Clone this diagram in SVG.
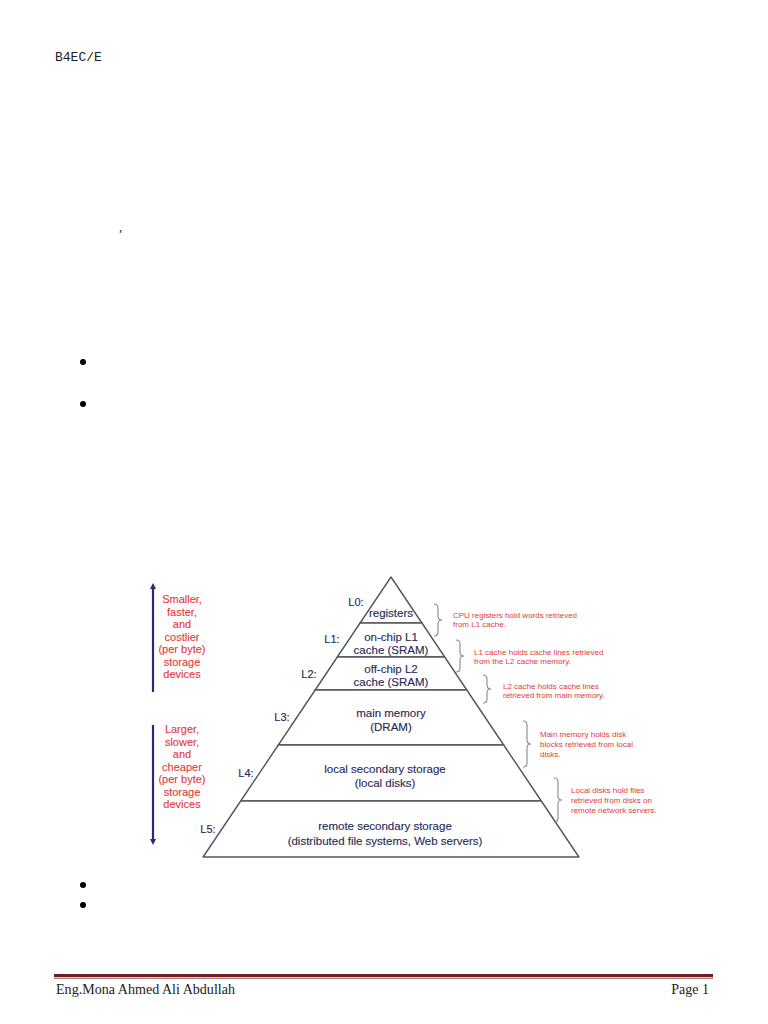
<svg xmlns="http://www.w3.org/2000/svg" width="768" height="1024" viewBox="0 0 768 1024">
<defs>
<style>
.lvl{fill:#ffffff;stroke:#55555f;stroke-width:1.4;stroke-linejoin:round}
.pt{font-family:"Liberation Sans",Arial,sans-serif;font-size:11.5px;fill:#2b2b58;text-anchor:middle;stroke:#2b2b58;stroke-width:0.15}
.lb{font-family:"Liberation Sans",Arial,sans-serif;font-size:11px;fill:#2b2b58;text-anchor:middle;stroke:#2b2b58;stroke-width:0.15}
.rt{font-family:"Liberation Sans",Arial,sans-serif;font-size:11px;fill:#e23a3a;text-anchor:middle;stroke:#e23a3a;stroke-width:0.12}
.an{font-family:"Liberation Sans",Arial,sans-serif;font-size:8px;fill:#e23a3a}
.br{fill:none;stroke:#8a8a8a;stroke-width:1.1}
.ar{stroke:#2a2a78;stroke-width:2.2;fill:none}
.bul{fill:#000000}
</style>
<marker id="ah" markerWidth="6" markerHeight="6" refX="3" refY="3" orient="auto" markerUnits="userSpaceOnUse">
<path d="M0,0 L6,3 L0,6 Z" fill="#2a2a78"/>
</marker>
</defs>
<rect width="768" height="1024" fill="#ffffff"/>

<text x="55" y="61" font-family="'Liberation Mono','DejaVu Sans Mono',monospace" font-size="13" fill="#222">B4EC/E</text>
<text x="119" y="231" font-family="'Liberation Serif',serif" font-size="13" fill="#222">,</text>

<circle class="bul" cx="83" cy="362" r="3"/>
<circle class="bul" cx="83" cy="404" r="3"/>
<circle class="bul" cx="83" cy="885" r="3"/>
<circle class="bul" cx="83" cy="905" r="3"/>

<g id="level-L0">
<polygon class="lvl" points="391,577 421.9,623 360.1,623"/>
<text class="lb" x="356" y="606">L0:</text>
<text class="pt" x="391" y="617">registers</text>
</g>
<g id="level-L1">
<polygon class="lvl" points="360.1,623 421.9,623 444.7,657 337.3,657"/>
<text class="lb" x="332" y="643">L1:</text>
<text class="pt" x="391" y="641">on-chip L1</text>
<text class="pt" x="391" y="654">cache (SRAM)</text>
</g>
<g id="level-L2">
<polygon class="lvl" points="337.3,657 444.7,657 466.8,690 315.2,690"/>
<text class="lb" x="309" y="678">L2:</text>
<text class="pt" x="391" y="673">off-chip L2</text>
<text class="pt" x="391" y="686">cache (SRAM)</text>
</g>
<g id="level-L3">
<polygon class="lvl" points="315.2,690 466.8,690 503.7,745 278.3,745"/>
<text class="lb" x="282" y="721">L3:</text>
<text class="pt" x="391" y="717">main memory</text>
<text class="pt" x="391" y="731">(DRAM)</text>
</g>
<g id="level-L4">
<polygon class="lvl" points="278.3,745 503.7,745 541.3,801 240.7,801"/>
<text class="lb" x="246" y="777">L4:</text>
<text class="pt" x="385" y="773">local secondary storage</text>
<text class="pt" x="385" y="787">(local disks)</text>
</g>
<g id="level-L5">
<polygon class="lvl" points="240.7,801 541.3,801 578.9,857 203.1,857"/>
<text class="lb" x="208" y="833">L5:</text>
<text class="pt" x="385" y="830">remote secondary storage</text>
<text class="pt" x="385" y="845">(distributed file systems, Web servers)</text>
</g>

<g id="note-upper">
<line class="ar" x1="153" y1="692" x2="153" y2="586" marker-end="url(#ah)"/>
<text class="rt" x="182" y="603">Smaller,</text>
<text class="rt" x="182" y="616">faster,</text>
<text class="rt" x="182" y="628">and</text>
<text class="rt" x="182" y="641">costlier</text>
<text class="rt" x="182" y="653">(per byte)</text>
<text class="rt" x="182" y="666">storage</text>
<text class="rt" x="182" y="678">devices</text>
</g>
<g id="note-lower">
<line class="ar" x1="153" y1="725" x2="153" y2="842" marker-end="url(#ah)"/>
<text class="rt" x="182" y="733">Larger,</text>
<text class="rt" x="182" y="746">slower,</text>
<text class="rt" x="182" y="758">and</text>
<text class="rt" x="182" y="771">cheaper</text>
<text class="rt" x="182" y="783">(per byte)</text>
<text class="rt" x="182" y="796">storage</text>
<text class="rt" x="182" y="808">devices</text>
</g>

<g id="annot-1">
<path class="br" d="M434,604 q4,0 4,4 v8 q0,4 4,4 q-4,0 -4,4 v8 q0,4 -4,4"/>
<text class="an" x="453" y="618">CPU registers hold words retrieved</text>
<text class="an" x="453" y="627">from L1 cache.</text>
</g>
<g id="annot-2">
<path class="br" d="M456,640 q4,0 4,4 v8 q0,4 4,4 q-4,0 -4,4 v8 q0,4 -4,4"/>
<text class="an" x="474" y="655">L1 cache holds cache lines retrieved</text>
<text class="an" x="474" y="664">from the L2 cache memory.</text>
</g>
<g id="annot-3">
<path class="br" d="M483,675 q4,0 4,4 v6 q0,4 4,4 q-4,0 -4,4 v6 q0,4 -4,4"/>
<text class="an" x="503" y="689">L2 cache holds cache lines</text>
<text class="an" x="503" y="698">retrieved from main memory.</text>
</g>
<g id="annot-4">
<path class="br" d="M523,721 q4,0 4,4 v15 q0,4 4,4 q-4,0 -4,4 v15 q0,4 -4,4"/>
<text class="an" x="540" y="737">Main memory holds disk</text>
<text class="an" x="540" y="747">blocks retrieved from local</text>
<text class="an" x="540" y="757">disks.</text>
</g>
<g id="annot-5">
<path class="br" d="M554,778 q4,0 4,4 v14 q0,4 4,4 q-4,0 -4,4 v14 q0,4 -4,4"/>
<text class="an" x="571" y="793">Local disks hold files</text>
<text class="an" x="571" y="803">retrieved from disks on</text>
<text class="an" x="571" y="813">remote network servers.</text>
</g>

<g id="footer">
<rect x="54" y="974" width="659" height="3" fill="#6e2020"/>
<rect x="54" y="977.6" width="659" height="1.4" fill="#b07a7a"/>
<text x="56" y="994" font-family="'Liberation Serif',serif" font-size="14" fill="#222" textLength="179" lengthAdjust="spacingAndGlyphs">Eng.Mona Ahmed Ali Abdullah</text>
<text x="709" y="994" font-family="'Liberation Serif',serif" font-size="14" fill="#222" text-anchor="end">Page 1</text>
</g>
</svg>
